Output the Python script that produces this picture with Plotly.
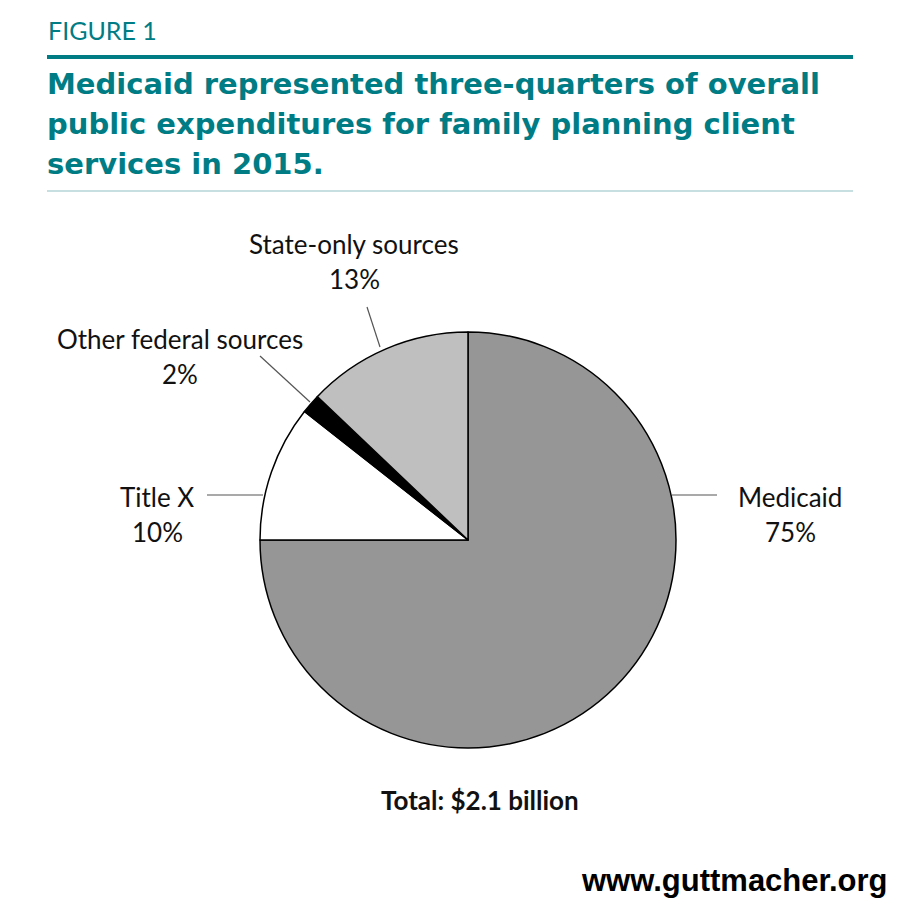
import plotly.graph_objects as go

W, H = 900, 905
OFF = 8  # page body margin
FW, FH = W - OFF, H - OFF

# Data
categories = ["Medicaid", "Title X", "Other federal sources", "State-only sources"]
values = [75.0, 10.6, 1.5, 12.9]
pct_labels = ["75%", "10%", "2%", "13%"]
colors = ["#969696", "#ffffff", "#000000", "#bfbfbf"]

TEAL = "#007c85"

def px(x):
    return (x - OFF) / FW

def py(y):
    return 1 - (y - OFF) / FH

cx, cy, r = 468, 540, 208

fig = go.Figure(go.Pie(
    labels=categories,
    values=values,
    sort=False,
    direction="clockwise",
    rotation=0,
    marker=dict(colors=colors, line=dict(color="#000000", width=1.5)),
    textinfo="none",
    hoverinfo="label+percent",
    showlegend=False,
    domain=dict(x=[px(cx - r), px(cx + r)], y=[py(cy + r), py(cy - r)]),
))

label_font = dict(family="Lato, Open Sans, sans-serif", size=26, color="#111111")

label_pos = {
    "Medicaid": (790, 497),
    "Title X": (157, 497),
    "Other federal sources": (180, 339),
    "State-only sources": (354, 244),
}
leaders = {
    "Medicaid": ((672, 495), (717, 495)),
    "Title X": ((207, 495), (263, 495)),
    "Other federal sources": ((260, 356), (310, 402)),
    "State-only sources": ((367, 307), (380, 347)),
}

annotations = []
shapes = []
for name, pct in zip(categories, pct_labels):
    lx, ly = label_pos[name]
    annotations.append(dict(x=px(lx), y=py(ly), xref="paper", yref="paper",
                            text=name, showarrow=False, font=label_font,
                            xanchor="center", yanchor="middle"))
    annotations.append(dict(x=px(lx), y=py(ly + 35), xref="paper", yref="paper",
                            text=pct, showarrow=False, font=label_font,
                            xanchor="center", yanchor="middle"))
    (x0, y0), (x1, y1) = leaders[name]
    shapes.append(dict(type="line", xref="paper", yref="paper",
                       x0=px(x0), y0=py(y0), x1=px(x1), y1=py(y1),
                       line=dict(color="#555555", width=1.2)))

# Header
annotations.append(dict(x=px(46), y=py(30), xref="paper", yref="paper",
                        text="FIGURE 1", showarrow=False, xanchor="left", yanchor="middle",
                        font=dict(family="Lato, Open Sans, sans-serif", size=25, color=TEAL)))
title_lines = ["Medicaid represented three-quarters of overall",
               "public expenditures for family planning client",
               "services in 2015."]
for i, t in enumerate(title_lines):
    annotations.append(dict(x=px(45), y=py(84 + i * 40), xref="paper", yref="paper",
                            text="<b>" + t + "</b>", showarrow=False, xanchor="left", yanchor="middle",
                            font=dict(family="DejaVu Sans, sans-serif", size=29, color=TEAL)))
shapes.append(dict(type="line", xref="paper", yref="paper",
                   x0=px(47), x1=px(853), y0=py(57), y1=py(57),
                   line=dict(color=TEAL, width=4)))
shapes.append(dict(type="line", xref="paper", yref="paper",
                   x0=px(47), x1=px(853), y0=py(191), y1=py(191),
                   line=dict(color="#8fbfc3", width=1.2)))

# Footer
annotations.append(dict(x=px(480), y=py(800), xref="paper", yref="paper",
                        text="<b>Total: $2.1 billion</b>", showarrow=False,
                        xanchor="center", yanchor="middle",
                        font=dict(family="Lato, Open Sans, sans-serif", size=26, color="#111111")))
annotations.append(dict(x=px(889), y=py(880), xref="paper", yref="paper",
                        text="<b>www.guttmacher.org</b>", showarrow=False,
                        xanchor="right", yanchor="middle",
                        font=dict(family="Liberation Sans, Arial, sans-serif", size=31, color="#000000")))

fig.update_layout(
    width=FW, height=FH,
    margin=dict(l=0, r=0, t=0, b=0),
    paper_bgcolor="#ffffff",
    plot_bgcolor="#ffffff",
    annotations=annotations,
    shapes=shapes,
)

fig.write_html("out.html")
